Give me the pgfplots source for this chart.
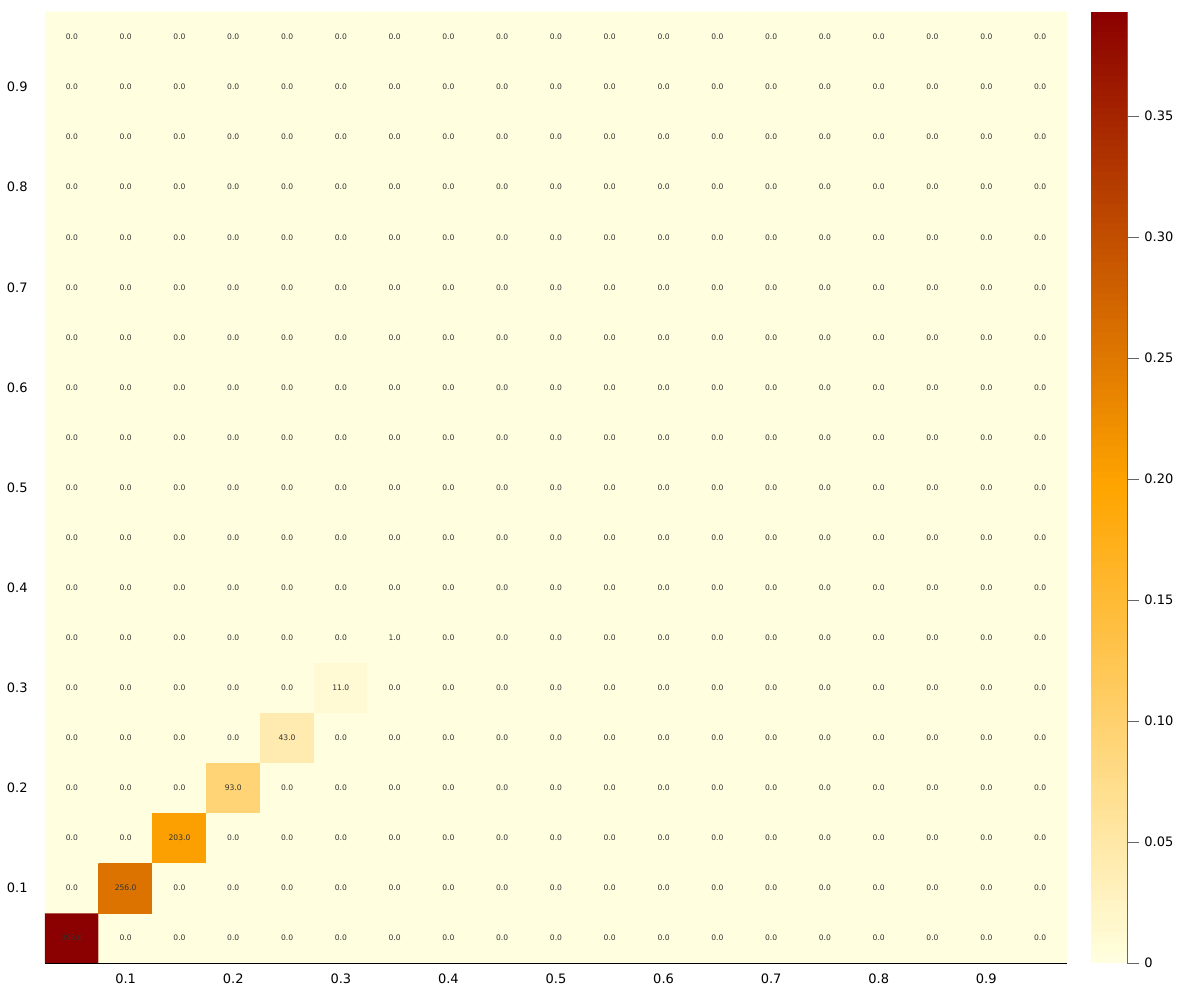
\documentclass[border=0pt]{standalone}
\usepackage{fontspec}
\setmainfont{DejaVu Sans}
\usepackage{pgfplots}
\usepackage{pgfplotstable}
\pgfplotsset{compat=1.18}

\pgfplotsset{colormap={heat}{rgb255=(255,255,224) rgb255=(255,165,0) rgb255=(139,0,0)}}

% counts per cell, x varies fastest
\pgfplotstableread[row sep=\\]{
x y c\\
0.05 0.05 393\\ 0.10 0.05 0\\ 0.15 0.05 0\\ 0.20 0.05 0\\ 0.25 0.05 0\\ 0.30 0.05 0\\ 0.35 0.05 0\\ 0.40 0.05 0\\ 0.45 0.05 0\\ 0.50 0.05 0\\ 0.55 0.05 0\\ 0.60 0.05 0\\ 0.65 0.05 0\\ 0.70 0.05 0\\ 0.75 0.05 0\\ 0.80 0.05 0\\ 0.85 0.05 0\\ 0.90 0.05 0\\ 0.95 0.05 0\\
0.05 0.10 0\\ 0.10 0.10 256\\ 0.15 0.10 0\\ 0.20 0.10 0\\ 0.25 0.10 0\\ 0.30 0.10 0\\ 0.35 0.10 0\\ 0.40 0.10 0\\ 0.45 0.10 0\\ 0.50 0.10 0\\ 0.55 0.10 0\\ 0.60 0.10 0\\ 0.65 0.10 0\\ 0.70 0.10 0\\ 0.75 0.10 0\\ 0.80 0.10 0\\ 0.85 0.10 0\\ 0.90 0.10 0\\ 0.95 0.10 0\\
0.05 0.15 0\\ 0.10 0.15 0\\ 0.15 0.15 203\\ 0.20 0.15 0\\ 0.25 0.15 0\\ 0.30 0.15 0\\ 0.35 0.15 0\\ 0.40 0.15 0\\ 0.45 0.15 0\\ 0.50 0.15 0\\ 0.55 0.15 0\\ 0.60 0.15 0\\ 0.65 0.15 0\\ 0.70 0.15 0\\ 0.75 0.15 0\\ 0.80 0.15 0\\ 0.85 0.15 0\\ 0.90 0.15 0\\ 0.95 0.15 0\\
0.05 0.20 0\\ 0.10 0.20 0\\ 0.15 0.20 0\\ 0.20 0.20 93\\ 0.25 0.20 0\\ 0.30 0.20 0\\ 0.35 0.20 0\\ 0.40 0.20 0\\ 0.45 0.20 0\\ 0.50 0.20 0\\ 0.55 0.20 0\\ 0.60 0.20 0\\ 0.65 0.20 0\\ 0.70 0.20 0\\ 0.75 0.20 0\\ 0.80 0.20 0\\ 0.85 0.20 0\\ 0.90 0.20 0\\ 0.95 0.20 0\\
0.05 0.25 0\\ 0.10 0.25 0\\ 0.15 0.25 0\\ 0.20 0.25 0\\ 0.25 0.25 43\\ 0.30 0.25 0\\ 0.35 0.25 0\\ 0.40 0.25 0\\ 0.45 0.25 0\\ 0.50 0.25 0\\ 0.55 0.25 0\\ 0.60 0.25 0\\ 0.65 0.25 0\\ 0.70 0.25 0\\ 0.75 0.25 0\\ 0.80 0.25 0\\ 0.85 0.25 0\\ 0.90 0.25 0\\ 0.95 0.25 0\\
0.05 0.30 0\\ 0.10 0.30 0\\ 0.15 0.30 0\\ 0.20 0.30 0\\ 0.25 0.30 0\\ 0.30 0.30 11\\ 0.35 0.30 0\\ 0.40 0.30 0\\ 0.45 0.30 0\\ 0.50 0.30 0\\ 0.55 0.30 0\\ 0.60 0.30 0\\ 0.65 0.30 0\\ 0.70 0.30 0\\ 0.75 0.30 0\\ 0.80 0.30 0\\ 0.85 0.30 0\\ 0.90 0.30 0\\ 0.95 0.30 0\\
0.05 0.35 0\\ 0.10 0.35 0\\ 0.15 0.35 0\\ 0.20 0.35 0\\ 0.25 0.35 0\\ 0.30 0.35 0\\ 0.35 0.35 1\\ 0.40 0.35 0\\ 0.45 0.35 0\\ 0.50 0.35 0\\ 0.55 0.35 0\\ 0.60 0.35 0\\ 0.65 0.35 0\\ 0.70 0.35 0\\ 0.75 0.35 0\\ 0.80 0.35 0\\ 0.85 0.35 0\\ 0.90 0.35 0\\ 0.95 0.35 0\\
0.05 0.40 0\\ 0.10 0.40 0\\ 0.15 0.40 0\\ 0.20 0.40 0\\ 0.25 0.40 0\\ 0.30 0.40 0\\ 0.35 0.40 0\\ 0.40 0.40 0\\ 0.45 0.40 0\\ 0.50 0.40 0\\ 0.55 0.40 0\\ 0.60 0.40 0\\ 0.65 0.40 0\\ 0.70 0.40 0\\ 0.75 0.40 0\\ 0.80 0.40 0\\ 0.85 0.40 0\\ 0.90 0.40 0\\ 0.95 0.40 0\\
0.05 0.45 0\\ 0.10 0.45 0\\ 0.15 0.45 0\\ 0.20 0.45 0\\ 0.25 0.45 0\\ 0.30 0.45 0\\ 0.35 0.45 0\\ 0.40 0.45 0\\ 0.45 0.45 0\\ 0.50 0.45 0\\ 0.55 0.45 0\\ 0.60 0.45 0\\ 0.65 0.45 0\\ 0.70 0.45 0\\ 0.75 0.45 0\\ 0.80 0.45 0\\ 0.85 0.45 0\\ 0.90 0.45 0\\ 0.95 0.45 0\\
0.05 0.50 0\\ 0.10 0.50 0\\ 0.15 0.50 0\\ 0.20 0.50 0\\ 0.25 0.50 0\\ 0.30 0.50 0\\ 0.35 0.50 0\\ 0.40 0.50 0\\ 0.45 0.50 0\\ 0.50 0.50 0\\ 0.55 0.50 0\\ 0.60 0.50 0\\ 0.65 0.50 0\\ 0.70 0.50 0\\ 0.75 0.50 0\\ 0.80 0.50 0\\ 0.85 0.50 0\\ 0.90 0.50 0\\ 0.95 0.50 0\\
0.05 0.55 0\\ 0.10 0.55 0\\ 0.15 0.55 0\\ 0.20 0.55 0\\ 0.25 0.55 0\\ 0.30 0.55 0\\ 0.35 0.55 0\\ 0.40 0.55 0\\ 0.45 0.55 0\\ 0.50 0.55 0\\ 0.55 0.55 0\\ 0.60 0.55 0\\ 0.65 0.55 0\\ 0.70 0.55 0\\ 0.75 0.55 0\\ 0.80 0.55 0\\ 0.85 0.55 0\\ 0.90 0.55 0\\ 0.95 0.55 0\\
0.05 0.60 0\\ 0.10 0.60 0\\ 0.15 0.60 0\\ 0.20 0.60 0\\ 0.25 0.60 0\\ 0.30 0.60 0\\ 0.35 0.60 0\\ 0.40 0.60 0\\ 0.45 0.60 0\\ 0.50 0.60 0\\ 0.55 0.60 0\\ 0.60 0.60 0\\ 0.65 0.60 0\\ 0.70 0.60 0\\ 0.75 0.60 0\\ 0.80 0.60 0\\ 0.85 0.60 0\\ 0.90 0.60 0\\ 0.95 0.60 0\\
0.05 0.65 0\\ 0.10 0.65 0\\ 0.15 0.65 0\\ 0.20 0.65 0\\ 0.25 0.65 0\\ 0.30 0.65 0\\ 0.35 0.65 0\\ 0.40 0.65 0\\ 0.45 0.65 0\\ 0.50 0.65 0\\ 0.55 0.65 0\\ 0.60 0.65 0\\ 0.65 0.65 0\\ 0.70 0.65 0\\ 0.75 0.65 0\\ 0.80 0.65 0\\ 0.85 0.65 0\\ 0.90 0.65 0\\ 0.95 0.65 0\\
0.05 0.70 0\\ 0.10 0.70 0\\ 0.15 0.70 0\\ 0.20 0.70 0\\ 0.25 0.70 0\\ 0.30 0.70 0\\ 0.35 0.70 0\\ 0.40 0.70 0\\ 0.45 0.70 0\\ 0.50 0.70 0\\ 0.55 0.70 0\\ 0.60 0.70 0\\ 0.65 0.70 0\\ 0.70 0.70 0\\ 0.75 0.70 0\\ 0.80 0.70 0\\ 0.85 0.70 0\\ 0.90 0.70 0\\ 0.95 0.70 0\\
0.05 0.75 0\\ 0.10 0.75 0\\ 0.15 0.75 0\\ 0.20 0.75 0\\ 0.25 0.75 0\\ 0.30 0.75 0\\ 0.35 0.75 0\\ 0.40 0.75 0\\ 0.45 0.75 0\\ 0.50 0.75 0\\ 0.55 0.75 0\\ 0.60 0.75 0\\ 0.65 0.75 0\\ 0.70 0.75 0\\ 0.75 0.75 0\\ 0.80 0.75 0\\ 0.85 0.75 0\\ 0.90 0.75 0\\ 0.95 0.75 0\\
0.05 0.80 0\\ 0.10 0.80 0\\ 0.15 0.80 0\\ 0.20 0.80 0\\ 0.25 0.80 0\\ 0.30 0.80 0\\ 0.35 0.80 0\\ 0.40 0.80 0\\ 0.45 0.80 0\\ 0.50 0.80 0\\ 0.55 0.80 0\\ 0.60 0.80 0\\ 0.65 0.80 0\\ 0.70 0.80 0\\ 0.75 0.80 0\\ 0.80 0.80 0\\ 0.85 0.80 0\\ 0.90 0.80 0\\ 0.95 0.80 0\\
0.05 0.85 0\\ 0.10 0.85 0\\ 0.15 0.85 0\\ 0.20 0.85 0\\ 0.25 0.85 0\\ 0.30 0.85 0\\ 0.35 0.85 0\\ 0.40 0.85 0\\ 0.45 0.85 0\\ 0.50 0.85 0\\ 0.55 0.85 0\\ 0.60 0.85 0\\ 0.65 0.85 0\\ 0.70 0.85 0\\ 0.75 0.85 0\\ 0.80 0.85 0\\ 0.85 0.85 0\\ 0.90 0.85 0\\ 0.95 0.85 0\\
0.05 0.90 0\\ 0.10 0.90 0\\ 0.15 0.90 0\\ 0.20 0.90 0\\ 0.25 0.90 0\\ 0.30 0.90 0\\ 0.35 0.90 0\\ 0.40 0.90 0\\ 0.45 0.90 0\\ 0.50 0.90 0\\ 0.55 0.90 0\\ 0.60 0.90 0\\ 0.65 0.90 0\\ 0.70 0.90 0\\ 0.75 0.90 0\\ 0.80 0.90 0\\ 0.85 0.90 0\\ 0.90 0.90 0\\ 0.95 0.90 0\\
0.05 0.95 0\\ 0.10 0.95 0\\ 0.15 0.95 0\\ 0.20 0.95 0\\ 0.25 0.95 0\\ 0.30 0.95 0\\ 0.35 0.95 0\\ 0.40 0.95 0\\ 0.45 0.95 0\\ 0.50 0.95 0\\ 0.55 0.95 0\\ 0.60 0.95 0\\ 0.65 0.95 0\\ 0.70 0.95 0\\ 0.75 0.95 0\\ 0.80 0.95 0\\ 0.85 0.95 0\\ 0.90 0.95 0\\ 0.95 0.95 0\\
}\counts

\begin{document}
\begin{tikzpicture}
\useasboundingbox (-22.5pt,-18.5pt) rectangle (577.5pt,481.5pt);
\begin{axis}[
  at={(0,0)}, anchor=south west,
  scale only axis,
  width=511pt, height=475.5pt,
  xmin=0.025, xmax=0.975, ymin=0.025, ymax=0.975,
  axis x line*=bottom, axis y line*=left,
  x axis line style={black,-},
  y axis line style={black!45,-},
  major tick length=0pt,
  xtick={0.1,0.2,0.3,0.4,0.5,0.6,0.7,0.8,0.9},
  ytick={0.1,0.2,0.3,0.4,0.5,0.6,0.7,0.8,0.9},
  /pgf/number format/assume math mode=true,
  /pgf/number format/.cd, fixed, precision=1, /pgfplots/.cd,
  tick label style={font=\fontsize{6.5}{8}\selectfont},
  xticklabel style={anchor=north, inner sep=0pt, yshift=-5pt},
  yticklabel style={anchor=east, inner sep=0pt, xshift=-8.5pt},
  colormap name=heat,
  point meta min=0, point meta max=0.393,
  colorbar sampled,
  colorbar style={
    at={(parent axis.north east)}, anchor=north west, xshift=3.5pt,
    scale only axis, width=18pt, height=475.5pt,
    samples=150,
    axis line style={draw=none},
    ytick pos=right, xtick=\empty,
    ytick={0,0.05,0.1,0.15,0.2,0.25,0.3,0.35},
    yticklabels={0,0.05,0.10,0.15,0.20,0.25,0.30,0.35},
    tick align=outside, major tick length=6pt,
    ytick style={black!60},
    yticklabel style={font=\fontsize{6.5}{8}\selectfont, anchor=west, inner sep=0pt, xshift=2.5pt},
    extra description/.code={\draw[black!60] (rel axis cs:1,0) -- (rel axis cs:1,1);},
  },
]
\addplot[matrix plot*, mesh/cols=19, point meta={\thisrow{c}/1000}] table[x=x, y=y] {\counts};
\addplot[draw=none, mark=none, point meta=explicit,
  nodes near coords={\pgfmathprintnumber[fixed, fixed zerofill, precision=1]{\pgfplotspointmeta}},
  nodes near coords align=center,
  every node near coord/.style={font=\fontsize{3.8}{4}\selectfont, text=black!80, inner sep=0pt}]
  table[x=x, y=y, meta=c] {\counts};
\end{axis}
\end{tikzpicture}
\end{document}
